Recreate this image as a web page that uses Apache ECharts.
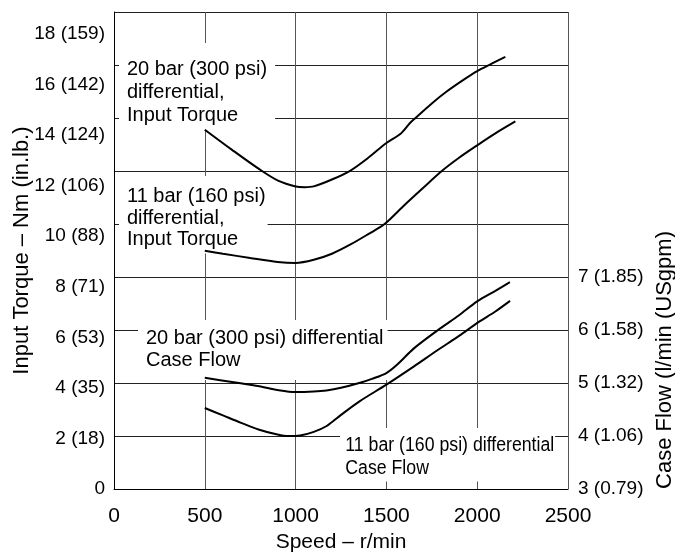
<!DOCTYPE html>
<html>
<head>
<meta charset="utf-8">
<script src="https://cdn.jsdelivr.net/npm/echarts@6/dist/echarts.min.js"></script>
<style>
html,body{margin:0;padding:0;background:#fff;}
#chart{width:675px;height:558px;}
</style>
</head>
<body>
<div id="chart"></div>
<script>
// ---- data ----
var torque20 = [[500,13.56],[650,12.80],[800,12.07],[900,11.65],[1000,11.42],[1050,11.39],[1100,11.42],[1200,11.68],[1300,12.01],[1400,12.50],[1500,13.06],[1580,13.42],[1630,13.81],[1660,14.00],[1750,14.55],[1830,14.99],[1920,15.42],[2000,15.77],[2080,16.05],[2155,16.31]];
var torque11 = [[500,8.99],[600,8.88],[750,8.72],[900,8.57],[1000,8.53],[1100,8.65],[1200,8.88],[1300,9.22],[1400,9.62],[1490,10.00],[1600,10.72],[1700,11.35],[1805,12.00],[1900,12.50],[2000,12.97],[2100,13.42],[2210,13.87]];
var flow20 = [[500,5.10],[650,5.02],[800,4.94],[900,4.87],[1000,4.83],[1100,4.84],[1170,4.86],[1250,4.91],[1350,5.00],[1420,5.08],[1500,5.19],[1560,5.35],[1650,5.65],[1780,5.99],[1900,6.28],[2000,6.54],[2100,6.74],[2180,6.905]];
var flow11 = [[500,4.53],[600,4.39],[700,4.25],[800,4.12],[900,4.03],[960,4.00],[1024,4.01],[1100,4.08],[1171,4.19],[1250,4.40],[1354,4.66],[1500,4.97],[1650,5.31],[1777,5.61],[1900,5.89],[2007,6.15],[2100,6.35],[2181,6.55]];
var xTickLabels = {0:'0',500:'500',1000:'1000',1500:'1500',2000:'2000',2500:'2500'};
var leftTickLabels = {0:'0',2:'2 (18)',4:'4 (35)',6:'6 (53)',8:'8 (71)',10:'10 (88)',12:'12 (106)',14:'14 (124)',16:'16 (142)',18:'18 (159)'};
var rightTickLabels = {3:'3 (0.79)',4:'4 (1.06)',5:'5 (1.32)',6:'6 (1.58)',7:'7 (1.85)'};
var annotations = [
  {text:'20 bar (300 psi)\ndifferential,\nInput Torque', x:119, y:43, lh:23, pad:[14.5,8,4.5,8], sx:1},
  {text:'11 bar (160 psi)\ndifferential,\nInput Torque', x:119, y:176, lh:21.5, pad:[10,2,3,8], sx:1},
  {text:'20 bar (300 psi) differential\nCase Flow', x:138, y:320, lh:22, pad:[7,4,9,8], sx:1},
  {text:'11 bar (160 psi) differential\nCase Flow', x:340, y:428, lh:23, pad:[5.5,1,2,6], sx:0.885}
];

var FONT = '"Liberation Sans", Arial, Helvetica, sans-serif';
var chart = echarts.init(document.getElementById('chart'), null, {renderer:'canvas'});

function lineSeries(data, yIdx){
  return {type:'line', data:data, yAxisIndex:yIdx, smooth:0.3, symbol:'none', silent:true,
    lineStyle:{color:'#000', width:2}, z:3};
}

var graphics = annotations.map(function(a){
  return {type:'text', x:a.x, y:a.y, z:1, scaleX:a.sx, silent:true,
    style:{text:a.text, font:'20px ' + FONT, fill:'#000', backgroundColor:'#fff',
      padding:a.pad, lineHeight:a.lh, textAlign:'left', textVerticalAlign:'top'}};
});
graphics.push({type:'text', x:665, y:360, rotation:Math.PI/2, z:1, silent:true,
  style:{text:'Case Flow (l/min (USgpm)', font:'22px ' + FONT, fill:'#000',
    textAlign:'center', textVerticalAlign:'middle'}});

chart.setOption({
  animation:false,
  backgroundColor:'#fff',
  textStyle:{fontFamily:FONT, color:'#000'},
  grid:{left:114, right:107, top:12, bottom:62, containLabel:false},
  xAxis:{type:'value', min:0, max:2500, interval:500,
    axisLine:{show:true, lineStyle:{color:'#000', width:1}},
    axisTick:{show:false},
    axisLabel:{fontSize:21, color:'#000', margin:17, fontFamily:FONT,
      formatter:function(v){ return xTickLabels[v] || ''; }},
    splitLine:{show:true, lineStyle:{color:'#555', width:1}},
    name:'Speed – r/min', nameLocation:'middle', nameGap:41,
    nameTextStyle:{fontSize:21, color:'#000', fontFamily:FONT}
  },
  yAxis:[
    {type:'value', position:'left', min:0, max:18, interval:2,
      axisLine:{show:true, lineStyle:{color:'#000', width:1}},
      axisTick:{show:false}, axisLabel:{show:false},
      splitLine:{show:true, lineStyle:{color:'#222', width:1}},
      name:'Input Torque – Nm (in.lb.)', nameLocation:'middle', nameGap:81,
      nameTextStyle:{fontSize:22, color:'#000', fontFamily:FONT}
    },
    {type:'value', position:'right', min:3, max:12, interval:1,
      axisLine:{show:false}, axisTick:{show:false}, splitLine:{show:false},
      axisLabel:{fontSize:19, color:'#000', margin:10, fontFamily:FONT,
        formatter:function(v){ return rightTickLabels[v] || ''; }}
    },
    {type:'value', position:'left', min:0, max:18.857, interval:2,
      axisLine:{show:false}, axisTick:{show:false}, splitLine:{show:false},
      axisLabel:{fontSize:19, color:'#000', margin:9, fontFamily:FONT,
        formatter:function(v){ return leftTickLabels[v] || ''; }}
    }
  ],
  graphic:graphics,
  series:[
    lineSeries(torque20, 0),
    lineSeries(torque11, 0),
    lineSeries(flow20, 1),
    lineSeries(flow11, 1)
  ]
});
</script>
</body>
</html>
